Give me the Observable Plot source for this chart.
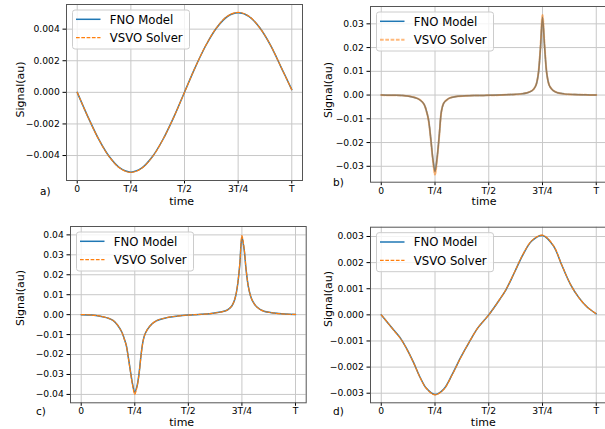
<!DOCTYPE html>
<html><head><meta charset="utf-8">
<script src="https://cdn.jsdelivr.net/npm/d3@7"></script>
<script src="https://cdn.jsdelivr.net/npm/@observablehq/plot@0.6"></script>
<style>
html,body{margin:0;padding:0;background:#fff;overflow:hidden;}
#root{position:relative;width:605px;height:429px;overflow:hidden;font-family:"DejaVu Sans",sans-serif;}
.cell{position:absolute;}
.cell svg{max-width:none !important;background:transparent !important;overflow:visible;}
#overlay{position:absolute;left:0;top:0;pointer-events:none;}
</style></head><body><div id="root"></div>
<script>
// ---- data ----
const xTicks = [0, 0.25, 0.5, 0.75, 1];
const xTickLabels = ["0", "T/4", "T/2", "3T/4", "T"];
const seriesNames = ["FNO Model", "VSVO Solver"];
const panelLabels = ["a)", "b)", "c)", "d)"];

// panel a
const tA = [0, 0.05, 0.1, 0.15, 0.2, 0.25, 0.3, 0.35, 0.4, 0.45, 0.5, 0.55, 0.6, 0.65, 0.7, 0.75, 0.8, 0.85, 0.9, 0.95, 1];
const aFNO  = [0, -0.00155, -0.00296, -0.00408, -0.00480, -0.00505, -0.00480, -0.00408, -0.00297, -0.00157, 0.00001, 0.00158, 0.00298, 0.00409, 0.00480, 0.00503, 0.00481, 0.00410, 0.00300, 0.00160, 0.00017];
const aVSVO = [0, -0.00156, -0.00297, -0.00409, -0.00481, -0.00507, -0.00481, -0.00409, -0.00297, -0.00157, 0.00000, 0.00158, 0.00299, 0.00410, 0.00482, 0.00506, 0.00482, 0.00410, 0.00300, 0.00160, 0.00016];
const yTicksA = [-0.004, -0.002, 0, 0.002, 0.004];

// panel b
const tB = [0, 0.05, 0.1, 0.14, 0.17, 0.19, 0.2, 0.21, 0.22, 0.23, 0.24, 0.25, 0.26, 0.27, 0.28, 0.29, 0.3, 0.32, 0.35, 0.4, 0.45, 0.5, 0.55, 0.6, 0.65, 0.68, 0.7, 0.71, 0.72, 0.73, 0.74, 0.75, 0.76, 0.77, 0.78, 0.79, 0.8, 0.82, 0.85, 0.9, 0.95, 1];
const bFNO  = [0, -0.0001, -0.0002, -0.0007, -0.0015, -0.0028, -0.0040, -0.0066, -0.0105, -0.0180, -0.0268, -0.0322, -0.0262, -0.0167, -0.0068, -0.0035, -0.0024, -0.0012, -0.0006, -0.0003, -0.0002, -0.0001, 0.0000, 0.0002, 0.0005, 0.0010, 0.0018, 0.0026, 0.0042, 0.0085, 0.0190, 0.0328, 0.0200, 0.0090, 0.0045, 0.0028, 0.0019, 0.0010, 0.0005, 0.0002, 0.0001, 0];
const bVSVO = [0, -0.0001, -0.0002, -0.0007, -0.0015, -0.0028, -0.0041, -0.0067, -0.0107, -0.0183, -0.0273, -0.0335, -0.0266, -0.0169, -0.0069, -0.0035, -0.0024, -0.0012, -0.0006, -0.0003, -0.0002, -0.0001, 0.0000, 0.0002, 0.0005, 0.0010, 0.0018, 0.0026, 0.0043, 0.0087, 0.0194, 0.0337, 0.0204, 0.0091, 0.0045, 0.0028, 0.0019, 0.0010, 0.0005, 0.0002, 0.0001, 0];
const yTicksB = [-0.03, -0.02, -0.01, 0, 0.01, 0.02, 0.03];

// panel c
const tC = [0, 0.05, 0.1, 0.13, 0.15, 0.17, 0.19, 0.2, 0.21, 0.22, 0.23, 0.24, 0.25, 0.26, 0.27, 0.28, 0.29, 0.3, 0.32, 0.35, 0.4, 0.45, 0.5, 0.55, 0.6, 0.65, 0.68, 0.7, 0.71, 0.72, 0.73, 0.74, 0.75, 0.76, 0.77, 0.78, 0.79, 0.8, 0.82, 0.85, 0.9, 0.95, 1];
const cFNO  = [0, -0.0002, -0.0010, -0.0019, -0.0030, -0.0053, -0.0088, -0.0118, -0.0152, -0.0215, -0.0285, -0.0350, -0.0388, -0.0360, -0.0295, -0.0195, -0.0125, -0.0092, -0.0058, -0.0031, -0.0015, -0.0007, -0.0002, 0.0001, 0.0005, 0.0013, 0.0022, 0.0040, 0.0058, 0.0090, 0.0150, 0.0250, 0.0388, 0.0330, 0.0220, 0.0140, 0.0095, 0.0068, 0.0038, 0.0018, 0.0008, 0.0003, 0.0001];
const cVSVO = [0, -0.0002, -0.0010, -0.0019, -0.0030, -0.0053, -0.0089, -0.0119, -0.0153, -0.0217, -0.0288, -0.0355, -0.0400, -0.0365, -0.0298, -0.0197, -0.0126, -0.0092, -0.0058, -0.0031, -0.0015, -0.0007, -0.0002, 0.0001, 0.0005, 0.0013, 0.0022, 0.0040, 0.0058, 0.0091, 0.0152, 0.0254, 0.0396, 0.0335, 0.0222, 0.0141, 0.0095, 0.0068, 0.0038, 0.0018, 0.0008, 0.0003, 0.0001];
const yTicksC = [-0.04, -0.03, -0.02, -0.01, 0, 0.01, 0.02, 0.03, 0.04];

// panel d
const tD = [0, 0.03, 0.06, 0.09, 0.12, 0.15, 0.18, 0.21, 0.25, 0.29, 0.33, 0.37, 0.41, 0.45, 0.5, 0.55, 0.58, 0.62, 0.66, 0.7, 0.75, 0.8, 0.84, 0.88, 0.92, 0.96, 1];
const dFNO  = [0, -0.00030, -0.00060, -0.00090, -0.00132, -0.00182, -0.00238, -0.00281, -0.00305, -0.00285, -0.00228, -0.00162, -0.00103, -0.00049, 0.00000, 0.00058, 0.00096, 0.00163, 0.00232, 0.00283, 0.00304, 0.00265, 0.00190, 0.00117, 0.00065, 0.00028, 0.00004];
const dVSVO = [0, -0.00030, -0.00061, -0.00091, -0.00133, -0.00183, -0.00239, -0.00282, -0.00306, -0.00286, -0.00229, -0.00163, -0.00103, -0.00049, 0.00000, 0.00058, 0.00097, 0.00164, 0.00233, 0.00284, 0.00305, 0.00266, 0.00190, 0.00117, 0.00065, 0.00028, 0.00004];
const yTicksD = [-0.003, -0.002, -0.001, 0, 0.001, 0.002, 0.003];

// ---- layout ----
const panels = [
  {t: tA, fno: aFNO, vsvo: aVSVO, ticks: yTicksA, fmt: ".3f", domain: [-0.00558, 0.00556],
   left: 0, top: 0, w: 305, h: 210, ml: 66, mr: 3, mt: 4, mb: 30, dashW: 1.2, dashOp: 1},
  {t: tB, fno: bFNO, vsvo: bVSVO, ticks: yTicksB, fmt: ".2f", domain: [-0.0367, 0.0373],
   left: 300, top: 0, w: 310, h: 210, ml: 70, mr: 3.5, mt: 6, mb: 28.3, dashW: 2, dashOp: 0.55},
  {t: tC, fno: cFNO, vsvo: cVSVO, ticks: yTicksC, fmt: ".2f", domain: [-0.0442, 0.0442],
   left: 0, top: 210, w: 310, h: 219, ml: 70, mr: 4.3, mt: 16, mb: 26.7, dashW: 1.2, dashOp: 1},
  {t: tD, fno: dFNO, vsvo: dVSVO, ticks: yTicksD, fmt: ".3f", domain: [-0.003367, 0.003356],
   left: 300, top: 210, w: 310, h: 219, ml: 70, mr: 3.5, mt: 16.7, mb: 26.7, dashW: 1.2, dashOp: 1}
];

const root = document.getElementById("root");
const FONT = "DejaVu Sans";

panels.forEach(p => {
  const fno = p.t.map((t, i) => ({t, v: p.fno[i]}));
  const vsvo = p.t.map((t, i) => ({t, v: p.vsvo[i]}));
  const svg = Plot.plot({
    width: p.w, height: p.h,
    marginLeft: p.ml, marginRight: p.mr, marginTop: p.mt, marginBottom: p.mb,
    style: {fontFamily: FONT, fontSize: "9.2px", color: "#000", background: "transparent", overflow: "visible"},
    x: {domain: [-0.05, 1.05], ticks: xTicks, tickFormat: d => xTickLabels[xTicks.indexOf(d)],
        tickSize: 3.5, tickPadding: 1.5, label: null},
    y: {domain: p.domain, ticks: p.ticks, tickFormat: d3.format(p.fmt),
        tickSize: 3.5, tickPadding: 3.2, label: null},
    marks: [
      Plot.gridX(xTicks, {stroke: "#c8c8c8", strokeOpacity: 1, strokeWidth: 1}),
      Plot.gridY(p.ticks, {stroke: "#c8c8c8", strokeOpacity: 1, strokeWidth: 1}),
      Plot.line(fno, {x: "t", y: "v", stroke: "#1f77b4", strokeWidth: 1.5, curve: "catmull-rom"}),
      Plot.line(vsvo, {x: "t", y: "v", stroke: "#ff7f0e", strokeWidth: p.dashW, strokeOpacity: p.dashOp,
                       strokeDasharray: "3.7,1.6", curve: "catmull-rom"}),
      Plot.frame({stroke: "#555", strokeWidth: 1})
    ]
  });
  const cell = document.createElement("div");
  cell.className = "cell";
  cell.style.left = p.left + "px";
  cell.style.top = p.top + "px";
  cell.appendChild(svg);
  root.appendChild(cell);
});

// ---- overlay: axis titles, panel labels, legends ----
const ov = d3.select(root).append("svg").attr("id", "overlay")
  .attr("width", 605).attr("height", 429)
  .style("font-family", FONT);

const labelPos = [
  {sx: 23.5, sy: 89.5, tx: 181.7, ty: 205, px: 40, py: 194.5},
  {sx: 331.5, sy: 90, tx: 484, ty: 205, px: 333, py: 185.5},
  {sx: 23.5, sy: 298, tx: 181.7, ty: 425.8, px: 36, py: 415},
  {sx: 331.5, sy: 299, tx: 483.3, ty: 425.8, px: 333, py: 415}
];

labelPos.forEach((L, i) => {
  const p = panels[i];
  ov.append("text").attr("transform", `translate(${L.sx},${L.sy}) rotate(-90)`)
    .attr("text-anchor", "middle").attr("font-size", 11).attr("fill", "#000").text("Signal(au)");
  ov.append("text").attr("x", L.tx).attr("y", L.ty)
    .attr("text-anchor", "middle").attr("font-size", 11).attr("fill", "#000").text("time");
  ov.append("text").attr("x", L.px).attr("y", L.py)
    .attr("font-size", 10.5).attr("fill", "#000").text(panelLabels[i]);

  // legend
  const bx = p.left + p.ml + 6.5, by = p.top + p.mt + 6;
  const g = ov.append("g").attr("transform", `translate(${bx},${by})`);
  g.append("rect").attr("width", 117).attr("height", 39).attr("rx", 2.5)
    .attr("fill", "#fff").attr("fill-opacity", 0.8).attr("stroke", "#cccccc").attr("stroke-width", 1);
  const rows = [9.3, 27.7];
  g.append("line").attr("x1", 3.5).attr("x2", 28).attr("y1", rows[0]).attr("y2", rows[0])
    .attr("stroke", "#1f77b4").attr("stroke-width", 1.5);
  g.append("line").attr("x1", 3.5).attr("x2", 28).attr("y1", rows[1]).attr("y2", rows[1])
    .attr("stroke", "#ff7f0e").attr("stroke-width", p.dashW).attr("stroke-opacity", p.dashOp)
    .attr("stroke-dasharray", "3.7,1.6");
  seriesNames.forEach((s, k) => {
    g.append("text").attr("x", 37.3).attr("y", rows[k] + 4.3)
      .attr("font-size", 11.7).attr("fill", "#000").text(s);
  });
});
</script></body></html>
